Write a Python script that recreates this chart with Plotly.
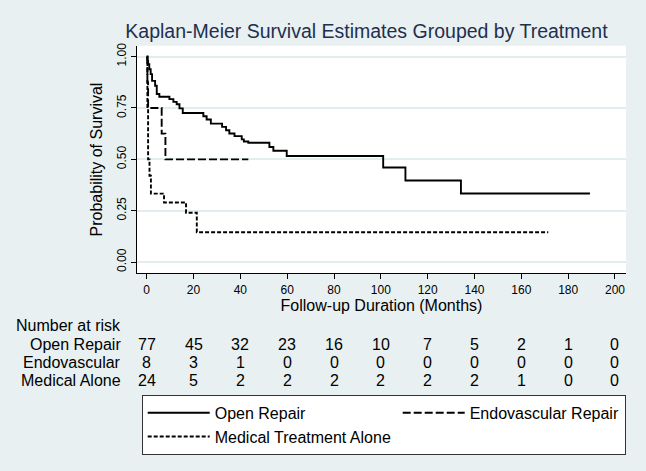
import plotly.graph_objects as go

W, H = 646, 471
BG = "#E8F0F2"
FONT = "Liberation Sans, Arial, sans-serif"

# ---- Kaplan-Meier step estimates (months, survival) ----
open_t = [0, 0.3, 0.6, 1.1, 1.7, 2.3, 3.6, 4.3, 5.4, 9.7, 11.4, 12.8, 14.0, 15.4,
          24.2, 25.6, 27.4, 32.2, 33.9, 35.3, 37.5, 40.6, 41.5, 43.4, 52.4, 54.1,
          59.8, 101.0, 110.5, 134.2, 189.3]
open_s = [1.0, 0.979, 0.963, 0.939, 0.915, 0.882, 0.858, 0.818, 0.805, 0.793, 0.780,
          0.768, 0.748, 0.726, 0.710, 0.694, 0.674, 0.658, 0.642, 0.626, 0.613, 0.597,
          0.587, 0.581, 0.560, 0.542, 0.516, 0.460, 0.397, 0.334, 0.334]

endo_t = [0, 0.3, 0.6, 6.4, 8.0, 43.4]
endo_s = [1.0, 0.875, 0.75, 0.625, 0.5, 0.5]

med_t = [0, 0.3, 0.6, 1.2, 1.8, 7.4, 16.8, 21.4, 171.5]
med_s = [1.0, 0.75, 0.5, 0.42, 0.333, 0.29, 0.24, 0.145, 0.145]

series_names = ["Open Repair", "Endovascular Repair", "Medical Treatment Alone"]

# ---- Number at risk table ----
risk_times = [0, 20, 40, 60, 80, 100, 120, 140, 160, 180, 200]
risk_open = [77, 45, 32, 23, 16, 10, 7, 5, 2, 1, 0]
risk_endo = [8, 3, 1, 0, 0, 0, 0, 0, 0, 0, 0]
risk_med = [24, 5, 2, 2, 2, 2, 2, 2, 1, 0, 0]
risk_labels = ["Open Repair", "Endovascular", "Medical Alone"]

x_ticks = [0, 20, 40, 60, 80, 100, 120, 140, 160, 180, 200]
y_ticks = [0, 0.25, 0.5, 0.75, 1.0]
y_ticklabels = ["0.00", "0.25", "0.50", "0.75", "1.00"]

# ---- layout geometry (pixels) ----
PL, PR, PT, PB = 137, 626, 43, 272


def py(px):
    return 1 - px / H


fig = go.Figure()
styles = [
    dict(color="black", width=1.9, dash="solid"),
    dict(color="black", width=1.9, dash="8px,3px"),
    dict(color="black", width=1.9, dash="4px,2px"),
]
for name, t, s, ln, lw in zip(series_names, [open_t, endo_t, med_t],
                               [open_s, endo_s, med_s], styles, [178, None, None]):
    tr = go.Scatter(x=t, y=s, mode="lines", line=dict(shape="hv", **ln), name=name,
                    hoverinfo="skip")
    if lw:
        tr.legendwidth = lw
    fig.add_trace(tr)

annotations = []
row_px = [343.3, 361.7, 380.0]
annotations.append(dict(text="Number at risk", xref="paper", yref="paper",
                        x=123.3 / W, y=py(325), xanchor="right", yanchor="middle",
                        showarrow=False, font=dict(size=16, color="black", family=FONT)))
for lab, counts, rp in zip(risk_labels, [risk_open, risk_endo, risk_med], row_px):
    annotations.append(dict(text=lab, xref="paper", yref="paper", x=123.3 / W, y=py(rp),
                            xanchor="right", yanchor="middle", showarrow=False,
                            font=dict(size=16, color="black", family=FONT)))
    for t, c in zip(risk_times, counts):
        annotations.append(dict(text=str(c), xref="x", yref="paper", x=t, y=py(rp),
                                xanchor="center", yanchor="middle", showarrow=False,
                                font=dict(size=16, color="black", family=FONT)))

fig.update_layout(
    width=W, height=H,
    margin=dict(l=0, r=0, t=0, b=0),
    paper_bgcolor=BG, plot_bgcolor="white",
    font=dict(family=FONT, color="black"),
    title=dict(text="Kaplan-Meier Survival Estimates Grouped by Treatment",
               x=366.5 / W, y=py(30.8), xanchor="center", yanchor="middle",
               xref="paper", yref="container",
               font=dict(size=19.5, color="#1F2F4F", family=FONT)),
    xaxis=dict(domain=[PL / W, PR / W], range=[-4.14, 204.7], tickvals=x_ticks,
               showgrid=False, zeroline=False, showline=True, linecolor="black",
               linewidth=1, ticks="outside", ticklen=5, tickcolor="black",
               tickfont=dict(size=12, color="black"),
               title=dict(text="Follow-up Duration (Months)", standoff=2,
                          font=dict(size=16, color="black"))),
    yaxis=dict(domain=[py(PB), py(PT)], range=[-0.0547, 1.0532], tickvals=y_ticks,
               ticktext=y_ticklabels, tickangle=-90,
               showgrid=True, gridcolor="#E3ECEE", gridwidth=1.5, zeroline=False,
               showline=True, linecolor="black", linewidth=1, ticks="outside",
               ticklen=5, tickcolor="black", tickfont=dict(size=12, color="black"),
               title=dict(text="Probability of Survival", standoff=8,
                          font=dict(size=16, color="black"))),
    showlegend=True,
    legend=dict(orientation="h", x=141.7 / W, y=py(394.3), xanchor="left",
                yanchor="top", bgcolor="white", bordercolor="#333333", borderwidth=1,
                itemwidth=62, font=dict(size=16, color="black", family=FONT),
                traceorder="normal"),
    annotations=annotations,
)

fig.write_html("out.html", config={"displayModeBar": False},
               post_script="document.body.style.margin='0';document.body.style.overflow='hidden';")
